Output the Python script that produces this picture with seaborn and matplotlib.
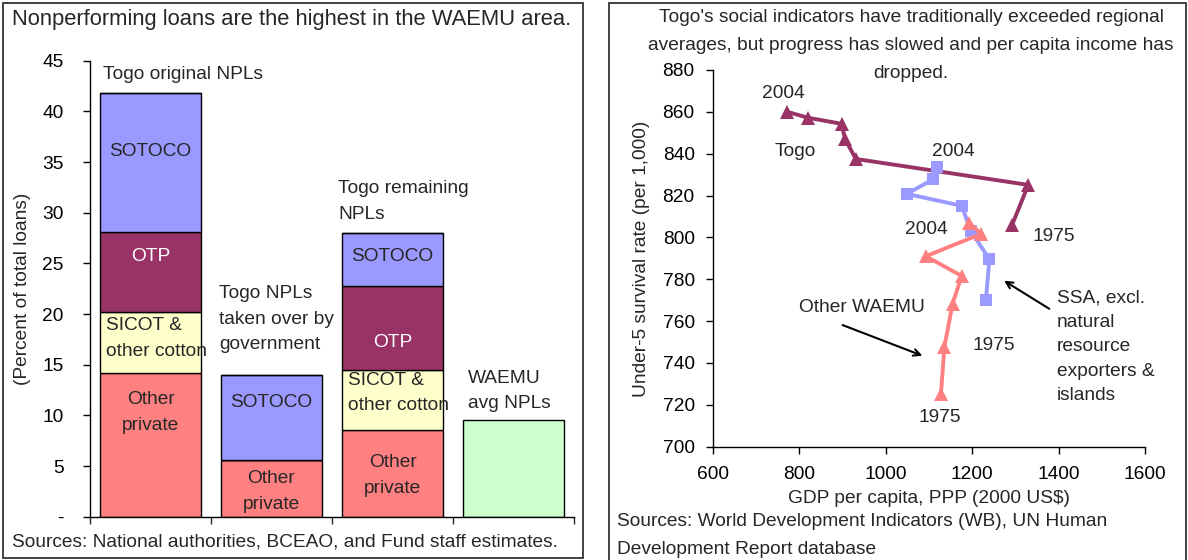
import matplotlib
matplotlib.use("Agg")
import matplotlib.pyplot as plt
from matplotlib.patches import Rectangle
import seaborn as sns
import numpy as np

# ---------------- data: left panel (percent of total loans) ----------------
bar_cats = ["Togo original NPLs", "Togo NPLs taken over by government",
            "Togo remaining NPLs", "WAEMU avg NPLs"]
other_private = [14.2, 5.6, 8.6, 0.0]
sicot_cotton = [6.0, 0.0, 5.9, 0.0]
otp = [7.9, 0.0, 8.3, 0.0]
sotoco = [13.7, 8.4, 5.2, 0.0]
waemu_avg = [0.0, 0.0, 0.0, 9.5]
left_yticks = [0, 5, 10, 15, 20, 25, 30, 35, 40, 45]
left_yticklabels = ["-", "5", "10", "15", "20", "25", "30", "35", "40", "45"]

# ---------------- data: right panel ----------------
years = [1975, 1980, 1985, 1990, 1995, 2000, 2004]
togo_gdp = [1292, 1330, 931, 906, 898, 820, 771]
togo_surv = [805.7, 825.1, 837.5, 847.1, 854.3, 857.2, 860.1]
ssa_gdp = [1232, 1240, 1197, 1176, 1049, 1110, 1118]
ssa_surv = [770.2, 789.5, 803.2, 815.1, 820.8, 827.8, 833.5]
owaemu_gdp = [1128, 1136, 1155, 1176, 1093, 1221, 1194]
owaemu_surv = [725.2, 747.8, 768.4, 781.6, 791.0, 801.7, 806.8]
right_xticks = [600, 800, 1000, 1200, 1400, 1600]
right_yticks = [700, 720, 740, 760, 780, 800, 820, 840, 860, 880]

C_SOTOCO = "#9999FF"
C_OTP = "#993366"
C_SICOT = "#FFFFCC"
C_OTHER = "#FF8080"
C_WAEMU = "#CCFFCC"

sns.set_theme(style="ticks")
plt.rcParams["font.family"] = ["Liberation Sans", "DejaVu Sans"]
FS = 13.8

W, H = 1188, 560
fig = plt.figure(figsize=(W / 100, H / 100), dpi=100)

def px_rect(x0, y0, x1, y1):
    return [x0 / W, 1 - y1 / H, (x1 - x0) / W, (y1 - y0) / H]

# panel borders
for (x0, y0, x1, y1) in [(3, 3, 583, 558), (609, 3, 1186, 562)]:
    fig.patches.append(Rectangle((x0 / W, 1 - y1 / H), (x1 - x0) / W, (y1 - y0) / H,
                                 transform=fig.transFigure, fill=False,
                                 edgecolor="#222222", linewidth=1.2))

# ---------------- left panel ----------------
axL = fig.add_axes(px_rect(90, 60.7, 574, 516.7))
bottom = np.zeros(4)
for vals, col in [(other_private, C_OTHER), (sicot_cotton, C_SICOT), (otp, C_OTP),
                  (sotoco, C_SOTOCO), (waemu_avg, C_WAEMU)]:
    sns.barplot(x=bar_cats, y=vals, bottom=bottom, color=col, saturation=1,
                edgecolor="black", linewidth=1.0, width=0.84, errorbar=None, ax=axL)
    bottom = bottom + np.array(vals)

axL.set_xlim(-0.5, 3.5)
axL.set_ylim(0, 45)
axL.set_yticks(left_yticks)
axL.set_yticklabels(left_yticklabels, fontsize=FS)
axL.set_xticks([-0.5, 0.5, 1.5, 2.5, 3.5])
axL.set_xticklabels([])
axL.set_xlabel("")
axL.set_ylabel("(Percent of total loans)", fontsize=FS, labelpad=8)
axL.tick_params(axis="y", direction="out", length=5, width=1, pad=14, colors="black")
axL.tick_params(axis="x", direction="out", length=5, width=1)
for s in ["top", "right"]:
    axL.spines[s].set_visible(False)
for s in ["left", "bottom"]:
    axL.spines[s].set_color("black")
    axL.spines[s].set_linewidth(1)

LS = 1.68
axL.text(0, 36.0, "SOTOCO", ha="center", va="center", fontsize=FS)
axL.text(0, 25.7, "OTP", ha="center", va="center", fontsize=FS, color="white")
axL.text(0.05, 17.6, "SICOT &\nother cotton", ha="center", va="center",
         multialignment="left", fontsize=FS, linespacing=LS)
axL.text(0, 10.3, "Other\nprivate", ha="center", va="center", fontsize=FS, linespacing=LS)
axL.text(1, 11.3, "SOTOCO", ha="center", va="center", fontsize=FS)
axL.text(1, 2.5, "Other\nprivate", ha="center", va="center", fontsize=FS, linespacing=LS)
axL.text(2, 25.7, "SOTOCO", ha="center", va="center", fontsize=FS)
axL.text(2, 17.2, "OTP", ha="center", va="center", fontsize=FS, color="white")
axL.text(2.05, 12.2, "SICOT &\nother cotton", ha="center", va="center",
         multialignment="left", fontsize=FS, linespacing=LS)
axL.text(2, 4.1, "Other\nprivate", ha="center", va="center", fontsize=FS, linespacing=LS)

axL.text(-0.39, 43.6, "Togo original NPLs", ha="left", va="center", fontsize=FS)
axL.text(0.57, 19.5, "Togo NPLs\ntaken over by\ngovernment", ha="left", va="center",
         fontsize=FS, linespacing=LS)
axL.text(1.55, 31.1, "Togo remaining\nNPLs", ha="left", va="center", fontsize=FS,
         linespacing=LS)
axL.text(2.62, 12.4, "WAEMU\navg NPLs", ha="left", va="center", fontsize=FS,
         linespacing=LS)

fig.text(12 / W, 1 - 20 / H, "Nonperforming loans are the highest in the WAEMU area.",
         ha="left", va="center", fontsize=15.8)
fig.text(12 / W, 1 - 542 / H,
         "Sources: National authorities, BCEAO, and Fund staff estimates.",
         ha="left", va="center", fontsize=FS)

# ---------------- right panel ----------------
axR = fig.add_axes(px_rect(712.7, 70, 1145, 446.7))
sns.lineplot(x=togo_gdp, y=togo_surv, sort=False, estimator=None, color=C_OTP,
             marker="^", markersize=9.5, markeredgewidth=0, linewidth=2.8, ax=axR)
sns.lineplot(x=ssa_gdp, y=ssa_surv, sort=False, estimator=None, color=C_SOTOCO,
             marker="s", markersize=8.5, markeredgewidth=0, linewidth=2.8, ax=axR)
sns.lineplot(x=owaemu_gdp, y=owaemu_surv, sort=False, estimator=None, color=C_OTHER,
             marker="^", markersize=9.5, markeredgewidth=0, linewidth=2.8, ax=axR)

axR.set_xlim(600, 1600)
axR.set_ylim(700, 880)
axR.set_xticks(right_xticks)
axR.set_yticks(right_yticks)
axR.tick_params(axis="both", direction="out", length=5, width=1, labelsize=FS,
                colors="black")
axR.tick_params(axis="x", pad=9)
axR.tick_params(axis="y", pad=8)
for s in ["top", "right"]:
    axR.spines[s].set_visible(False)
for s in ["left", "bottom"]:
    axR.spines[s].set_color("black")
    axR.spines[s].set_linewidth(1)
axR.set_xlabel("GDP per capita, PPP (2000 US$)", fontsize=FS, labelpad=5)
axR.set_ylabel("Under-5 survival rate (per 1,000)", fontsize=FS, labelpad=9)

axR.text(763, 869, "2004", ha="center", va="center", fontsize=FS)
axR.text(790, 841, "Togo", ha="center", va="center", fontsize=FS)
axR.text(1157, 841, "2004", ha="center", va="center", fontsize=FS)
axR.text(1095, 803.6, "2004", ha="center", va="center", fontsize=FS)
axR.text(1388, 800.4, "1975", ha="center", va="center", fontsize=FS)
axR.text(945, 766.5, "Other WAEMU", ha="center", va="center", fontsize=FS)
axR.text(1249, 748.3, "1975", ha="center", va="center", fontsize=FS)
axR.text(1126, 714, "1975", ha="center", va="center", fontsize=FS)
axR.text(1396, 747.8, "SSA, excl.\nnatural\nresource\nexporters &\nislands",
         ha="left", va="center", fontsize=FS, linespacing=1.58)
axR.annotate("", xy=(1091, 743), xytext=(894.5, 758.6),
             arrowprops=dict(arrowstyle="->", color="black", lw=1.5))
axR.annotate("", xy=(1268.5, 780), xytext=(1384, 765.2),
             arrowprops=dict(arrowstyle="->", color="black", lw=1.5))

for i, line in enumerate(["Togo's social indicators have traditionally exceeded regional",
                          "averages, but progress has slowed and per capita income has",
                          "dropped."]):
    fig.text(911 / W, 1 - (18 + 27.5 * i) / H, line, ha="center", va="center", fontsize=FS)

fig.text(617 / W, 1 - 522 / H, "Sources: World Development Indicators (WB), UN Human",
         ha="left", va="center", fontsize=FS)
fig.text(617 / W, 1 - 550 / H, "Development Report database",
         ha="left", va="center", fontsize=FS)

fig.savefig("out.png", dpi=100)
